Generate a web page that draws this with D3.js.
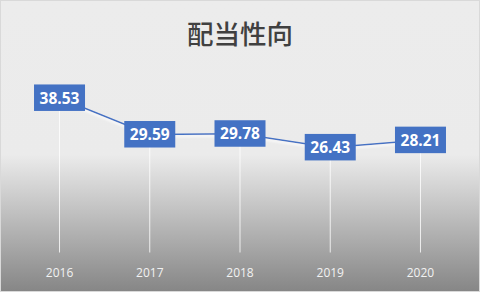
<!DOCTYPE html>
<html><head><meta charset="utf-8">
<script src="https://cdn.jsdelivr.net/npm/d3@7"></script>
<style>html,body{margin:0;padding:0;background:#fff;}svg{display:block;}</style>
</head><body>
<script>
const title = "配当性向";
const categories = ["2016","2017","2018","2019","2020"];
const values = [38.53, 29.59, 29.78, 26.43, 28.21];

const W = 480, H = 292;
const svg = d3.select("body").append("svg").attr("width", W).attr("height", H);
const defs = svg.append("defs");
const g = defs.append("linearGradient").attr("id","bg").attr("x1",0).attr("y1",0).attr("x2",0).attr("y2",1);
g.append("stop").attr("offset","0%").attr("stop-color","#ececec");
g.append("stop").attr("offset","53%").attr("stop-color","#ebebeb");
g.append("stop").attr("offset","100%").attr("stop-color","#868686");
const sh = defs.append("filter").attr("id","sh").attr("x","-10%").attr("y","-50%").attr("width","120%").attr("height","200%");
sh.append("feGaussianBlur").attr("in","SourceAlpha").attr("stdDeviation",0.8).attr("result","b");
sh.append("feOffset").attr("in","b").attr("dy",2).attr("result","o");
sh.append("feFlood").attr("flood-color","#ffffff").attr("flood-opacity",1);
sh.append("feComposite").attr("in2","o").attr("operator","in").attr("result","s");
const m = sh.append("feMerge");
m.append("feMergeNode").attr("in","s");
m.append("feMergeNode").attr("in","SourceGraphic");

svg.append("rect").attr("x",0.5).attr("y",0.5).attr("width",W-1).attr("height",H-1)
  .attr("fill","url(#bg)").attr("stroke","#d9d9d9");

svg.append("text").attr("x",240).attr("y",44).attr("text-anchor","middle")
  .attr("font-family","'Noto Sans CJK JP'").attr("font-size",26.5).attr("font-weight",500)
  .attr("fill","#404040").text(title);

const x = d3.scaleBand().domain(categories).range([14.4, 465.6]);
const y = d3.scaleLinear().domain([0, 45]).range([255.5, 71.5]);
const cx = d => x(d) + x.bandwidth()/2;

// drop lines
svg.append("g").selectAll("line").data(categories).join("line")
  .attr("x1", d => cx(d)).attr("x2", d => cx(d))
  .attr("y1", (d,i) => y(values[i])).attr("y2", y(0) - 3)
  .attr("stroke","#ffffff").attr("stroke-width",1).attr("stroke-opacity",0.8);

// line
const line = d3.line().x((d,i) => cx(categories[i])).y(d => y(d));
svg.append("path").datum(values).attr("d", line).attr("fill","none")
  .attr("stroke","#4472c4").attr("stroke-width",1.5).attr("filter","url(#sh)");

// labels
const lab = svg.append("g").selectAll("g").data(values).join("g")
  .attr("transform",(d,i) => `translate(${cx(categories[i])},${y(d)})`);
lab.append("rect").attr("x",-25.5).attr("y",-13.5).attr("width",51).attr("height",26.5).attr("fill","#4472c4");
lab.append("text").attr("text-anchor","middle").attr("dy","0.36em")
  .attr("font-family","'Open Sans', 'Liberation Sans', sans-serif").attr("font-weight",700).attr("font-size",15.5)
  .attr("fill","#ffffff").text(d => d.toFixed(2));

// x axis labels
const xa = svg.append("g").attr("transform",`translate(0,${y(0)})`)
  .call(d3.axisBottom(x).tickSize(0).tickPadding(13));
xa.select(".domain").remove();
xa.selectAll("text").attr("font-family","'Open Sans', sans-serif").attr("font-size",12).attr("fill","#f2f2f2");
</script>
</body></html>
